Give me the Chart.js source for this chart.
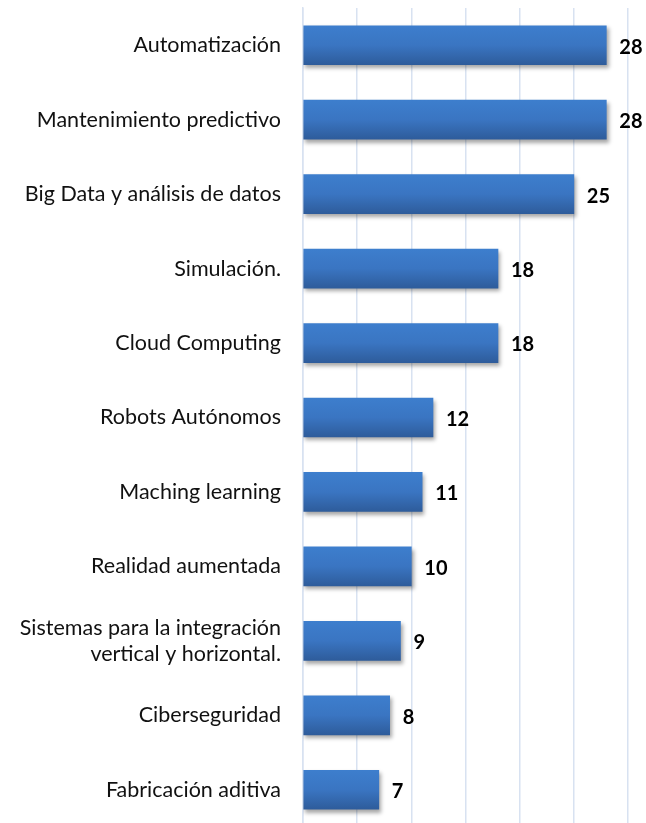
<!DOCTYPE html>
<html><head><meta charset="utf-8">
<script src="https://cdn.jsdelivr.net/npm/chart.js@4/dist/chart.umd.min.js"></script>
<style>html,body{margin:0;padding:0;background:#fff;overflow:hidden;width:646px;height:823px}#wrap{width:646px;height:827px;position:relative}</style>
</head><body><div id="wrap"><canvas id="c"></canvas></div>
<script>
const categories = ["Automatización","Mantenimiento predictivo","Big Data y análisis de datos","Simulación.","Cloud Computing","Robots Autónomos","Maching learning","Realidad aumentada",["Sistemas para la integración","vertical y horizontal."],"Ciberseguridad","Fabricación aditiva"];
const values = [28,28,25,18,18,12,11,10,9,8,7];
const xMin = 0, xMax = 30, xStep = 5;

const FONT = "Lato, 'Open Sans', sans-serif";
const BAR_H = 39;

const shadowPlugin = {
  id:'shadow',
  beforeDatasetsDraw(chart){const c=chart.ctx;c.save();c.shadowColor='rgba(0,0,0,0.35)';c.shadowBlur=4;c.shadowOffsetX=2;c.shadowOffsetY=3;},
  afterDatasetsDraw(chart){chart.ctx.restore();}
};
const valuePlugin = {
  id:'vals',
  afterDatasetsDraw(chart){
    const c=chart.ctx;const meta=chart.getDatasetMeta(0);
    c.save();c.fillStyle='#000';c.font="bold 20px "+FONT;c.textAlign='left';c.textBaseline='middle';
    meta.data.forEach((el,i)=>{c.fillText(String(values[i]), el.x+13, el.y+2);});
    c.restore();
  }
};

new Chart(document.getElementById('c'),{
  type:'bar',
  data:{labels:categories,datasets:[{data:values,
    backgroundColor:(ctx)=>{
      const ys=ctx.chart.scales.y;
      if(!ys||ctx.dataIndex===undefined) return '#3a72bd';
      const py=ys.getPixelForValue(ctx.dataIndex);
      if(!isFinite(py)) return '#3a72bd';
      const g=ctx.chart.ctx.createLinearGradient(0,py-BAR_H/2,0,py+BAR_H/2);
      g.addColorStop(0,'#3d7ecd');g.addColorStop(0.5,'#3a75c2');g.addColorStop(1,'#2e5c9b');
      return g;
    },
    borderWidth:0,barThickness:BAR_H}]},
  options:{
    indexAxis:'y',responsive:true,maintainAspectRatio:false,animation:false,
    layout:{padding:{left:0,right:18,top:8,bottom:0}},
    plugins:{legend:{display:false},tooltip:{enabled:false}},
    scales:{
      x:{min:xMin,max:xMax,ticks:{display:false,stepSize:xStep},
        grid:{color:'#d8e2f1',lineWidth:1.5,drawTicks:false},border:{display:false},
        afterFit(s){s.height=0;s.paddingLeft=0;s.paddingRight=0;}},
      y:{grid:{display:false,drawTicks:false},border:{color:'#d8e2f1',width:1.5},
        ticks:{color:'#111',font:{family:FONT,size:21.5},padding:22},
        afterFit(s){s.width=303;s.paddingTop=0;s.paddingBottom=0;}}
    }
  },
  plugins:[shadowPlugin,valuePlugin]
});
</script></body></html>
